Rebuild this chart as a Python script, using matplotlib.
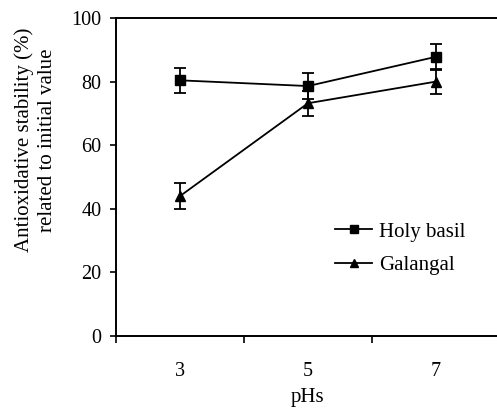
import matplotlib
matplotlib.use("Agg")
import matplotlib.pyplot as plt
from matplotlib.lines import Line2D

# Data
ph_labels = ["3", "5", "7"]
holy_basil = [80.4, 78.6, 87.8]
holy_basil_err = [4.0, 4.2, 4.0]
galangal = [44.0, 73.2, 80.0]
galangal_err = [4.0, 3.9, 4.0]

plt.rcParams['font.family'] = ['Liberation Serif', 'DejaVu Serif']

W, H = 497, 408
fig = plt.figure(figsize=(W / 100, H / 100), dpi=100)
# axes right edge sits just past the image border, like the original
ax = fig.add_axes([116 / W, 1 - 336 / H, 384 / W, 318 / H])

x = [3, 5, 7]
ax.errorbar(x, holy_basil, yerr=holy_basil_err, color='black', marker='s',
            markersize=7, linewidth=1.3, capsize=4, elinewidth=1.3,
            capthick=1.3)
ax.errorbar(x, galangal, yerr=galangal_err, color='black', marker='^',
            markersize=7.5, linewidth=1.3, capsize=4, elinewidth=1.3,
            capthick=1.3)

ax.set_xlim(2, 8)
ax.set_ylim(0, 100)
ax.set_xticks([2, 4, 6, 8])
ax.set_xticklabels([])
ax.set_xticks(x, minor=True)
ax.set_xticklabels(ph_labels, minor=True, fontsize=14.5)
ax.tick_params(axis='x', which='minor', length=0, pad=18.5)
ax.tick_params(axis='x', which='major', length=5, width=1.2, direction='out')
ax.set_yticks([0, 20, 40, 60, 80, 100])
ax.tick_params(axis='y', length=4.5, width=1.2, direction='out', labelsize=14.5, pad=6)

for side in ['left', 'bottom', 'top', 'right']:
    ax.spines[side].set_linewidth(1.4)

ax.set_xlabel('pHs', fontsize=15)
ax.xaxis.set_label_coords(0.5, (336 - 388) / 318)
ax.set_ylabel('Antioxidative stability (%)\nrelated to initial value', fontsize=15,
              linespacing=1.25)
ax.yaxis.set_label_coords((57 - 116) / 384, (336 - 140) / 318)

handles = [
    Line2D([], [], color='black', marker='s', markersize=6, linewidth=1.3),
    Line2D([], [], color='black', marker='^', markersize=6, linewidth=1.3),
]
fig.legend(handles, ['Holy basil', 'Galangal'], loc='upper left',
           bbox_to_anchor=(335 / W, 1 - 222 / H), frameon=False,
           fontsize=15, handlelength=1.78, handletextpad=0.34,
           labelspacing=0.68, borderpad=0, borderaxespad=0)

fig.savefig('out.png', dpi=100)
